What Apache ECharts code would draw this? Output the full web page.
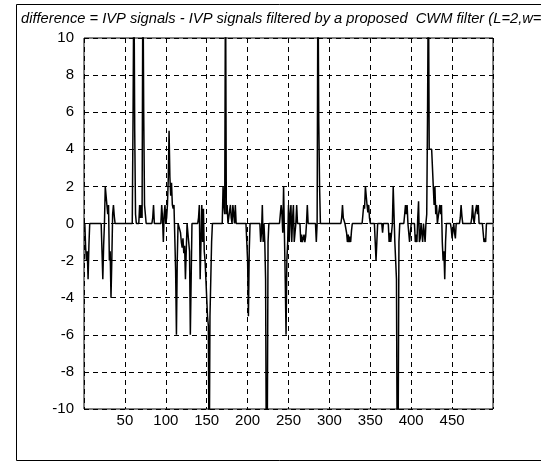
<!DOCTYPE html>
<html>
<head>
<meta charset="utf-8">
<script src="https://cdn.jsdelivr.net/npm/echarts@6/dist/echarts.min.js"></script>
<style>
html,body{margin:0;padding:0;background:#fff;}
#c{width:541px;height:463px;}
</style>
</head>
<body>
<div id="c"></div>
<script>
// Chart text
var titleText = 'difference = IVP signals - IVP signals filtered by a proposed  CWM filter (L=2,w=';
// Axis ranges / ticks
var xMin = 0, xMax = 500, xStep = 50;
var yMin = -10, yMax = 10, yStep = 2;
var xTickLabels = [50, 100, 150, 200, 250, 300, 350, 400, 450];

// Samples [index, difference value] (zero baseline between bursts)
var burstA = [[1,0],[2,-1.3],[3,-2],[4,-1.5],[5,-3],[6,-1.2],[7,0],
  [21,0],[22,-1.5],[23,-3],[24,-1.2],[25,0],[26,2],[27,2],[28,1],[29,0.5],[30,1],[31,-2],[32,-1.5],[33,-4],[34,-2],[35,0.5],[36,1],[37,0.4],[38,0],
  [59,0],[60,6],[61,14],[62,5],[63,0.5],[64,0],
  [67,0],[68,1],[69,0.3],[70,1],[71,0.3],[72,14],[73,6],[74,1],[75,0.5],[76,0],
  [83,0],[84,0.3],[85,1],[86,0]];
var burstB = [[94,0],[95,1],[96,0.3],[97,-1],[98,0.5],[99,1],[100,0],
  [101,0.3],[102,1],[103,2.4],[104,5],[105,2.5],[106,1.5],[107,2.2],[108,1],[109,0.8],[110,1],[111,1],[112,-2.5],[113,-6],[114,-2],[115,0],
  [117,0],[118,-0.5],[119,-1],[120,-1.3],[121,-0.8],[122,-1.6],[123,-1.2],[124,-3],[125,-1.5],[126,0],
  [127,0],[128,-1],[129,-1.5],[130,-6],[131,-6],[132,0],
  [139,0],[140,0.3],[141,1],[142,-3],[143,-1],[144,1],[145,-1],[146,0.8],[147,-1.5],[148,-2],[149,-3],[150,-4],[151,-5],[152,-5.5],[153,-14],[154,-5],[155,-3],[156,-1],[157,0]];
var burstC = [[169,0],[170,2],[171,1],[172,0.5],[173,14],[174,0.5],[175,1],[176,0],
  [178,0],[179,1],[180,0.3],[181,0],[182,1],[183,0.5],[184,0],[185,1],[186,0],
  [198,0],[199,-1],[200,-2],[201,-5],[202,-1.5],[203,0],
  [215,0],[216,-1],[217,-0.5],[218,1],[219,-1],[220,0],[221,-1],[222,-3],[223,-14],[224,-12],[225,-1],[226,0]];
var burstD = [[239,0],[240,0.5],[241,1],[242,0.5],[243,-0.5],[244,2],[245,2],[246,-3],[247,-6],[248,-2],[249,-1],[250,1],[251,-1],[252,0.5],[253,1],[254,-1],[255,0.3],[256,1],[257,-1],[258,-0.5],[259,0],[260,1],[261,0],
  [264,0],[265,-1],[266,-0.6],[267,-1],[268,-0.8],[269,-0.6],[270,-1],[271,-0.7],[272,0],[273,1],[274,0],
  [283,0],[284,-1],[285,0],[286,14],[287,5.5],[288,2],[289,0],
  [314,0],[315,0.3],[316,1],[317,0.3],[318,0.2],[319,0],
  [320,0],[321,-0.5],[322,-1],[323,-0.6],[324,-1],[325,-0.7],[326,-1],[327,-0.4],[328,0]];
var burstE = [[340,0],[341,0.5],[342,1],[343,0.8],[344,2],[345,2],[346,1],[347,0.6],[348,1],[349,0.3],[350,0],
  [355,0],[356,-1],[357,-2],[358,-1],[359,0],
  [364,0],[365,-0.5],[366,0],
  [372,0],[373,-1],[374,-0.5],[375,-1],[376,-1],[377,0],[378,2],[379,2],[380,-1],[381,-2],[382,-3],[383,-14],[384,-12],[385,-1],[386,0],
  [391,0],[392,0.5],[393,1],[394,0.5],[395,1],[396,0],[397,0],[398,-1],[399,-0.5],[400,0]];
var burstF = [[404,0],[405,-1],[406,-0.6],[407,-1],[408,0.3],[409,1.2],[410,-1],[411,-0.8],[412,0],[413,0],[414,-1],[415,0],[416,0],[417,-1],[418,0],
  [419,0.5],[420,6],[421,14],[422,4],[423,4],[424,4],[425,4],[426,4],[427,2],[428,1],[429,2],[430,0.5],[431,1],[432,0],
  [434,0],[435,1],[436,0.5],[437,1],[438,-1],[439,-2],[440,-1.5],[441,-3],[442,-1],[443,0],
  [448,0],[449,-0.3],[450,-0.8],[451,-0.4],[452,0],[453,-0.5],[454,-0.8],[455,0],
  [459,0],[460,0.3],[461,1],[462,0.4],[463,0],
  [473,0],[474,0.3],[475,1],[476,0.3],[477,0],[478,0.5],[479,0.6],[480,1],[481,0.5],[482,1],[483,0],
  [487,0],[488,-0.5],[489,-1],[490,-0.8],[491,-1],[492,0],
  [499,0]];

var samples = burstA.concat(burstB, burstC, burstD, burstE, burstF);

var FONT = 'Liberation Sans, Arial, sans-serif';
var chart = echarts.init(document.getElementById('c'), null, {renderer: 'canvas'});
chart.setOption({
  animation: false,
  backgroundColor: '#fff',
  title: {
    text: titleText,
    left: 16, top: 6,
    textStyle: {fontFamily: FONT, fontSize: 14.7, fontStyle: 'italic', fontWeight: 'normal', color: '#000'}
  },
  graphic: [{
    type: 'rect', silent: true, z: -1,
    shape: {x: 16.5, y: 4.5, width: 540, height: 456},
    style: {fill: 'none', stroke: '#000', lineWidth: 1}
  }],
  grid: {left: 84, right: 48, top: 38, bottom: 54, show: true, borderColor: '#000', borderWidth: 1, backgroundColor: 'transparent'},
  xAxis: {
    type: 'value', min: xMin, max: xMax, interval: xStep,
    axisLine: {show: false}, axisTick: {show: false},
    axisLabel: {
      margin: 4, color: '#000', fontFamily: FONT, fontSize: 15,
      formatter: function (v) { return xTickLabels.indexOf(v) >= 0 ? String(v) : ''; }
    },
    splitLine: {show: true, lineStyle: {color: '#000', width: 1, type: [5, 4]}}
  },
  yAxis: {
    type: 'value', min: yMin, max: yMax, interval: yStep,
    axisLine: {show: false}, axisTick: {show: false},
    axisLabel: {margin: 10, color: '#000', fontFamily: FONT, fontSize: 15},
    splitLine: {show: true, lineStyle: {color: '#000', width: 1, type: [5, 4]}}
  },
  series: [{
    type: 'line',
    data: samples,
    showSymbol: false,
    clip: true,
    lineStyle: {color: '#000', width: 1.5},
    z: 3
  }]
});
</script>
</body>
</html>
